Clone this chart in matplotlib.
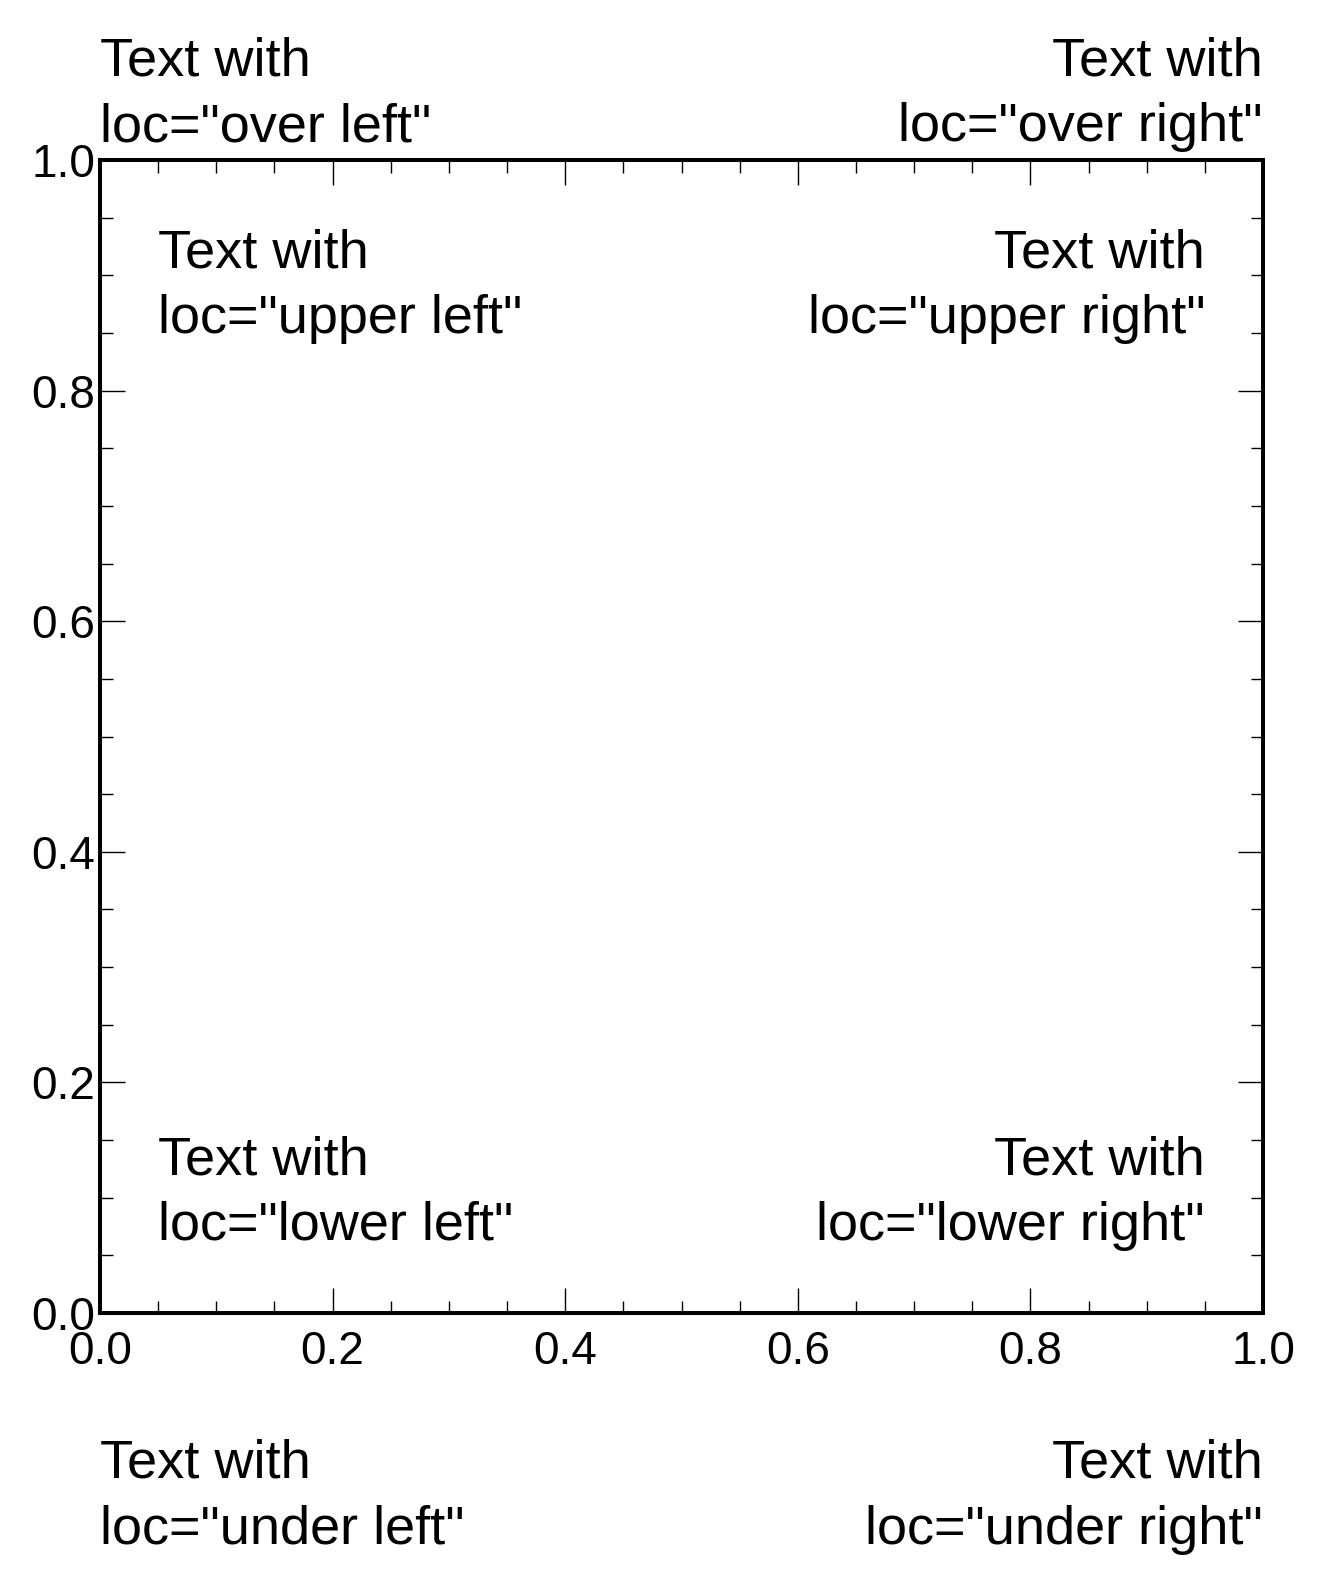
import matplotlib
matplotlib.use("Agg")
import matplotlib.pyplot as plt
from matplotlib.ticker import MultipleLocator

plt.rcParams["font.family"] = ["Liberation Sans", "DejaVu Sans"]

# axis ranges and tick steps
x_limits = [0.0, 1.0]
y_limits = [0.0, 1.0]
major_step = 0.2
minor_step = 0.05

# the eight text boxes: (loc, text)
inside_locs = ["upper left", "upper right", "lower left", "lower right"]
outside_locs = ["over left", "over right", "under left", "under right"]

# pixel offsets from the matching axes corner, per location
offsets = {
    "upper left": ((0, 1), (58, -68), "left", "top"),
    "upper right": ((1, 1), (-58, -68), "right", "top"),
    "lower left": ((0, 0), (58, 62), "left", "bottom"),
    "lower right": ((1, 0), (-58, 62), "right", "bottom"),
    "over left": ((0, 1), (0, 8), "left", "bottom"),
    "over right": ((1, 1), (0, 8), "right", "bottom"),
    "under left": ((0, 0), (0, -126), "left", "top"),
    "under right": ((1, 0), (0, -126), "right", "top"),
}

fig = plt.figure(figsize=(13.24, 15.91), dpi=100)
# axes box: left 100px, right 1263px, top 160px, bottom 1313px
ax = fig.add_axes([100 / 1324, 1 - 1313 / 1591, 1163 / 1324, 1153 / 1591])

ax.set_xlim(x_limits)
ax.set_ylim(y_limits)
ax.xaxis.set_major_locator(MultipleLocator(major_step))
ax.xaxis.set_minor_locator(MultipleLocator(minor_step))
ax.yaxis.set_major_locator(MultipleLocator(major_step))
ax.yaxis.set_minor_locator(MultipleLocator(minor_step))

for s in ax.spines.values():
    s.set_linewidth(2.9)

ax.tick_params(which="both", direction="in", top=True, right=True, width=1.0)
ax.tick_params(which="major", length=18)
ax.tick_params(which="minor", length=9)
ax.tick_params(axis="x", which="major", pad=12.5, labelsize=33)
ax.tick_params(axis="y", which="major", pad=3.5, labelsize=33)

for loc in inside_locs + outside_locs:
    xy, off, ha, va = offsets[loc]
    ax.annotate(f'Text with\nloc="{loc}"', xy=xy, xycoords="axes fraction",
                xytext=off, textcoords="offset pixels",
                ha=ha, va=va, fontsize=39, linespacing=1.4,
                multialignment=ha, annotation_clip=False)

fig.savefig("out.png", dpi=100)
